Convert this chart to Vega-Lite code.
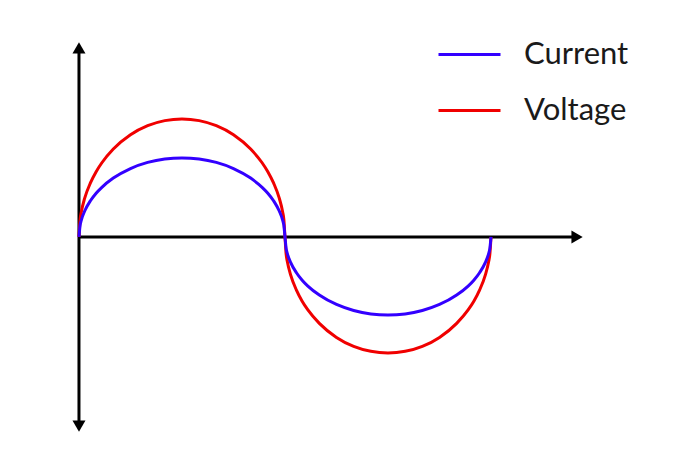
{
  "$schema": "https://vega.github.io/schema/vega-lite/v6.json",
  "width": 700,
  "height": 450,
  "autosize": {"type": "fit", "contains": "padding"},
  "padding": 0,
  "background": "white",
  "config": {"view": {"stroke": null}},
  "layer": [
    {
      "data": {"values": [
        {"x": 0, "x2": 435, "y": 0, "y2": 0},
        {"x": 0, "x2": 0, "y": -1.6, "y2": 1.6}
      ]},
      "mark": {"type": "rule", "color": "black", "strokeWidth": 3},
      "encoding": {
        "x": {"field": "x", "type": "quantitative", "scale": {"domain": [-69, 542.6], "nice": false, "zero": false}, "axis": null},
        "x2": {"field": "x2"},
        "y": {"field": "y", "type": "quantitative", "scale": {"domain": [-1.805, 2.008], "nice": false, "zero": false}, "axis": null},
        "y2": {"field": "y2"}
      }
    },
    {
      "data": {"values": [
        {"x": 0, "y": 1.602, "shape": "triangle-up"},
        {"x": 0, "y": -1.602, "shape": "triangle-down"},
        {"x": 435.2, "y": 0, "shape": "triangle-right"}
      ]},
      "mark": {"type": "point", "filled": true, "color": "black", "size": 169, "opacity": 1},
      "encoding": {
        "x": {"field": "x", "type": "quantitative", "scale": {"domain": [-69, 542.6], "nice": false, "zero": false}, "axis": null},
        "y": {"field": "y", "type": "quantitative", "scale": {"domain": [-1.805, 2.008], "nice": false, "zero": false}, "axis": null},
        "shape": {"field": "shape", "type": "nominal", "scale": null}
      }
    },
    {
      "data": {"values": [
        {"deg": 0, "Current": 0, "Voltage": 0},
        {"deg": 1, "Current": 0.100, "Voltage": 0.149},
        {"deg": 2, "Current": 0.141, "Voltage": 0.210},
        {"deg": 5, "Current": 0.220, "Voltage": 0.329},
        {"deg": 10, "Current": 0.307, "Voltage": 0.458},
        {"deg": 15, "Current": 0.371, "Voltage": 0.553},
        {"deg": 20, "Current": 0.421, "Voltage": 0.629},
        {"deg": 30, "Current": 0.499, "Voltage": 0.745},
        {"deg": 45, "Current": 0.580, "Voltage": 0.866},
        {"deg": 60, "Current": 0.632, "Voltage": 0.943},
        {"deg": 75, "Current": 0.661, "Voltage": 0.986},
        {"deg": 90, "Current": 0.670, "Voltage": 1.0},
        {"deg": 105, "Current": 0.661, "Voltage": 0.986},
        {"deg": 120, "Current": 0.632, "Voltage": 0.943},
        {"deg": 135, "Current": 0.580, "Voltage": 0.866},
        {"deg": 150, "Current": 0.499, "Voltage": 0.745},
        {"deg": 160, "Current": 0.421, "Voltage": 0.629},
        {"deg": 165, "Current": 0.371, "Voltage": 0.553},
        {"deg": 170, "Current": 0.307, "Voltage": 0.458},
        {"deg": 175, "Current": 0.220, "Voltage": 0.329},
        {"deg": 178, "Current": 0.141, "Voltage": 0.210},
        {"deg": 179, "Current": 0.100, "Voltage": 0.149},
        {"deg": 180, "Current": 0, "Voltage": 0},
        {"deg": 181, "Current": -0.098, "Voltage": -0.146},
        {"deg": 182, "Current": -0.139, "Voltage": -0.206},
        {"deg": 185, "Current": -0.217, "Voltage": -0.323},
        {"deg": 190, "Current": -0.303, "Voltage": -0.450},
        {"deg": 195, "Current": -0.366, "Voltage": -0.544},
        {"deg": 200, "Current": -0.416, "Voltage": -0.618},
        {"deg": 210, "Current": -0.492, "Voltage": -0.732},
        {"deg": 225, "Current": -0.572, "Voltage": -0.851},
        {"deg": 240, "Current": -0.623, "Voltage": -0.927},
        {"deg": 255, "Current": -0.652, "Voltage": -0.969},
        {"deg": 270, "Current": -0.661, "Voltage": -0.983},
        {"deg": 285, "Current": -0.652, "Voltage": -0.969},
        {"deg": 300, "Current": -0.623, "Voltage": -0.927},
        {"deg": 315, "Current": -0.572, "Voltage": -0.851},
        {"deg": 330, "Current": -0.492, "Voltage": -0.732},
        {"deg": 340, "Current": -0.416, "Voltage": -0.618},
        {"deg": 345, "Current": -0.366, "Voltage": -0.544},
        {"deg": 350, "Current": -0.303, "Voltage": -0.450},
        {"deg": 355, "Current": -0.217, "Voltage": -0.323},
        {"deg": 358, "Current": -0.139, "Voltage": -0.206},
        {"deg": 359, "Current": -0.098, "Voltage": -0.146},
        {"deg": 360, "Current": 0, "Voltage": 0}
      ]},
      "transform": [{"fold": ["Voltage", "Current"], "as": ["series", "value"]}],
      "mark": {"type": "line", "strokeWidth": 3, "interpolate": "monotone"},
      "encoding": {
        "x": {"field": "deg", "type": "quantitative", "scale": {"domain": [-69, 542.6], "nice": false, "zero": false}, "axis": null},
        "y": {"field": "value", "type": "quantitative", "scale": {"domain": [-1.805, 2.008], "nice": false, "zero": false}, "axis": null},
        "color": {
          "field": "series",
          "type": "nominal",
          "scale": {"domain": ["Current", "Voltage"], "range": ["#3300ff", "#f00000"]},
          "legend": {
            "title": null,
            "orient": "none",
            "legendX": 437,
            "legendY": 39,
            "padding": 0,
            "symbolType": "stroke",
            "symbolSize": 3844,
            "symbolStrokeWidth": 3,
            "labelFont": "Lato",
            "labelFontSize": 31,
            "labelColor": "#1a1a1a",
            "labelOffset": 22,
            "rowPadding": 24,
            "clipHeight": 31
          }
        },
        "order": {"field": "series", "sort": "descending"}
      }
    }
  ]
}
